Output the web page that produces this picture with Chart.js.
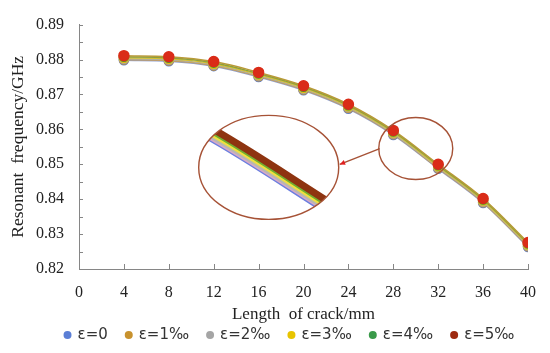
<!DOCTYPE html>
<html><head><meta charset="utf-8">
<script src="https://cdn.jsdelivr.net/npm/chart.js@4"></script>
<style>html,body{margin:0;padding:0;background:#fff}</style>
</head><body>
<canvas id="c" width="550" height="353"></canvas>
<script>
const crackLength = [4, 8, 12, 16, 20, 24, 28, 32, 36, 40];
const eps0 = [0.8798, 0.8795, 0.8781, 0.8750, 0.8712, 0.8659, 0.8584, 0.8487, 0.8389, 0.8263];
const eps1 = [0.8800, 0.8797, 0.8783, 0.8752, 0.8714, 0.8661, 0.8586, 0.8489, 0.8391, 0.8265];
const eps2 = [0.8802, 0.8799, 0.8785, 0.8754, 0.8716, 0.8663, 0.8588, 0.8491, 0.8393, 0.8267];
const eps3 = [0.8805, 0.8802, 0.8788, 0.8757, 0.8719, 0.8666, 0.8591, 0.8494, 0.8396, 0.8270];
const eps4 = [0.8808, 0.8805, 0.8791, 0.8760, 0.8722, 0.8669, 0.8594, 0.8497, 0.8399, 0.8273];
const eps5 = [0.8811, 0.8808, 0.8794, 0.8763, 0.8725, 0.8672, 0.8597, 0.8500, 0.8402, 0.8276];
const seriesNames = ['ε=0', 'ε=1‰', 'ε=2‰', 'ε=3‰', 'ε=4‰', 'ε=5‰'];
const seriesValues = [eps0, eps1, eps2, eps3, eps4, eps5];
const pointColors = ['#5B7FD6', '#C8922E', '#A5A5A5', '#E8C400', '#3A9A4A', '#DA2C18'];
const lineColors  = ['#8FA0D0', '#C89A50', '#B0B0A0', '#D8C030', '#8AA040', '#B89A38'];
const insetColors = ['#6A7FE0', '#D8A8C8', '#B8B8B0', '#F0E040', '#70B030', '#8E3410'];
const legendColors = ['#5B7FD6', '#C8922E', '#A5A5A5', '#E8C400', '#3A9A4A', '#9E2A10'];
const xTicks = [0, 4, 8, 12, 16, 20, 24, 28, 32, 36, 40];
const yTicks = [0.82, 0.83, 0.84, 0.85, 0.86, 0.87, 0.88, 0.89];

const datasets = seriesNames.map((n, i) => ({
  label: n,
  data: crackLength.map((x, j) => ({x: x, y: seriesValues[i][j]})),
  borderColor: lineColors[i],
  backgroundColor: pointColors[i],
  pointBackgroundColor: pointColors[i],
  pointBorderColor: pointColors[i],
  pointRadius: i === 5 ? 5 : 4.5,
  borderWidth: 1.5,
  tension: 0.4,
  cubicInterpolationMode: 'monotone',
  order: seriesNames.length - i
}));

const axisColor = '#868686';
const tickMarks = {
  id: 'tickMarks',
  afterDraw(chart) {
    const {ctx, scales: {x, y}} = chart;
    ctx.save();
    ctx.strokeStyle = axisColor;
    ctx.lineWidth = 1;
    ctx.beginPath();
    xTicks.forEach(v => {
      const px = Math.round(x.getPixelForValue(v)) + 0.5;
      ctx.moveTo(px, y.bottom); ctx.lineTo(px, y.bottom - 5);
    });
    for (let k = 0; k < yTicks.length * 2 - 1; k++) {
      const v = yTicks[0] + k * 0.005;
      const py = Math.round(y.getPixelForValue(v)) + 0.5;
      ctx.moveTo(x.left, py); ctx.lineTo(x.left + 4, py);
    }
    ctx.stroke();
    ctx.restore();
  }
};

const customLegend = {
  id: 'customLegend',
  afterDraw(chart) {
    const {ctx} = chart;
    ctx.save();
    ctx.font = '15px "DejaVu Sans"';
    ctx.textBaseline = 'middle';
    const r = 4, gapText = 6, gapItem = 17;
    const widths = seriesNames.map(n => 2 * r + gapText + ctx.measureText(n).width);
    const total = widths.reduce((a, b) => a + b, 0) + gapItem * (widths.length - 1);
    let xx = chart.width / 2 + 14 - total / 2;
    const yy = 335;
    seriesNames.forEach((n, i) => {
      ctx.fillStyle = legendColors[i];
      ctx.beginPath();
      ctx.arc(xx + r, yy, r, 0, Math.PI * 2);
      ctx.fill();
      ctx.fillStyle = '#333';
      ctx.fillText(n, xx + 2 * r + gapText, yy);
      xx += widths[i] + gapItem;
    });
    ctx.restore();
  }
};

const inset = {
  id: 'inset',
  afterDatasetsDraw(chart) {
    const {ctx, scales: {x, y}} = chart;
    const sx = x.getPixelForValue(30.0), sy = y.getPixelForValue(0.8545);
    const lx = x.getPixelForValue(16.9), ly = y.getPixelForValue(0.8491);
    const srx = 37, sry = 31, lrx = 70, lry = 52;
    const kx = 2.9, ky = 2.4;
    ctx.save();
    ctx.save();
    ctx.beginPath();
    ctx.ellipse(lx, ly, lrx, lry, 0, 0, Math.PI * 2);
    ctx.clip();
    ctx.fillStyle = '#fff';
    ctx.fill();
    ctx.translate(lx, ly);
    ctx.scale(kx, ky);
    ctx.translate(-sx, -sy);
    ctx.lineCap = 'round';
    chart.data.datasets.forEach((ds, i) => {
      const pts = chart.getDatasetMeta(i).data;
      ctx.strokeStyle = insetColors[i];
      ctx.lineWidth = i === 5 ? 2.8 : 2.4;
      ctx.beginPath();
      ctx.moveTo(pts[0].x, pts[0].y);
      for (let j = 1; j < pts.length; j++) {
        const p = pts[j - 1], c = pts[j];
        ctx.bezierCurveTo(p.cp2x, p.cp2y, c.cp1x, c.cp1y, c.x, c.y);
      }
      ctx.stroke();
    });
    ctx.restore();
    ctx.strokeStyle = '#A65236';
    ctx.lineWidth = 1.4;
    ctx.beginPath();
    ctx.ellipse(lx, ly, lrx, lry, 0, 0, Math.PI * 2);
    ctx.stroke();
    ctx.beginPath();
    ctx.ellipse(sx, sy, srx, sry, 0, 0, Math.PI * 2);
    ctx.stroke();
    const ax0 = sx - srx + 1, ay0 = sy, ax1 = lx + lrx + 1, ay1 = ly - 3;
    ctx.beginPath();
    ctx.moveTo(ax0, ay0); ctx.lineTo(ax1, ay1);
    ctx.stroke();
    const ang = Math.atan2(ay1 - ay0, ax1 - ax0);
    ctx.fillStyle = '#E02020';
    ctx.beginPath();
    ctx.moveTo(ax1, ay1);
    ctx.lineTo(ax1 - 6 * Math.cos(ang - 0.45), ay1 - 6 * Math.sin(ang - 0.45));
    ctx.lineTo(ax1 - 6 * Math.cos(ang + 0.45), ay1 - 6 * Math.sin(ang + 0.45));
    ctx.closePath();
    ctx.fill();
    ctx.restore();
  }
};

new Chart(document.getElementById('c'), {
  type: 'line',
  data: {datasets},
  options: {
    responsive: false,
    animation: false,
    layout: {padding: {left: 4, right: 22, top: 17, bottom: 28}},
    plugins: {
      tooltip: {enabled: false},
      legend: {display: false}
    },
    scales: {
      x: {
        type: 'linear', min: 0, max: 40,
        afterBuildTicks: (s) => { s.ticks = xTicks.map(v => ({value: v})); },
        grid: {display: false, drawTicks: false},
        border: {display: true, color: axisColor, width: 1},
        ticks: {padding: 14, color: '#222', font: {family: 'Liberation Serif', size: 16}, maxRotation: 0},
        title: {display: true, text: 'Length  of crack/mm', color: '#222', padding: {top: 0, bottom: 0},
          font: {family: 'Liberation Serif', size: 17}},
        afterFit: (s) => { s.height = 56; }
      },
      y: {
        type: 'linear', min: 0.82, max: 0.89,
        afterBuildTicks: (s) => { s.ticks = yTicks.map(v => ({value: v})); },
        grid: {display: false, drawTicks: false},
        border: {display: true, color: axisColor, width: 1},
        ticks: {padding: 15, color: '#222', font: {family: 'Liberation Serif', size: 16},
          callback: (v) => v.toFixed(2)},
        title: {display: true, text: 'Resonant  frequency/GHz', color: '#222', padding: {top: 4, bottom: 0},
          font: {family: 'Liberation Serif', size: 17.5}},
        afterFit: (s) => { s.width = 75; }
      }
    }
  },
  plugins: [tickMarks, inset, customLegend]
});
</script>
</body></html>
